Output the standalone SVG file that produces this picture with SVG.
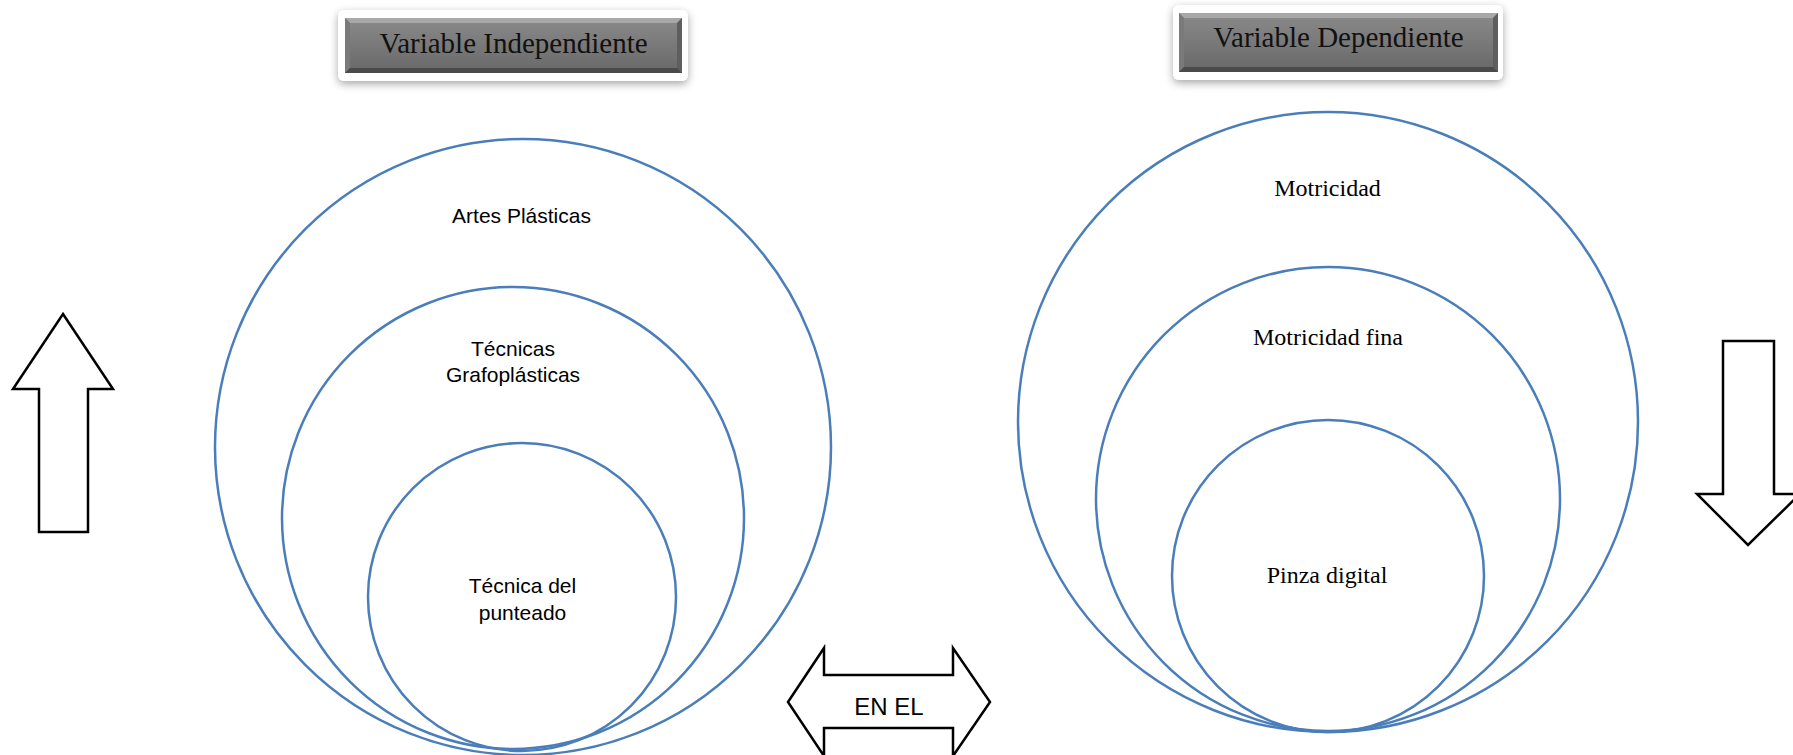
<svg xmlns="http://www.w3.org/2000/svg" width="1793" height="755" viewBox="0 0 1793 755">
<style>
.c{fill:none;stroke:#4a7ebb;stroke-width:2.5}
.ar{fill:#fff;stroke:#000;stroke-width:2.5;stroke-linejoin:miter}
.sans{font-family:"Liberation Sans",Arial,sans-serif;font-size:21px;fill:#000;text-anchor:middle}
.serif{font-family:"Liberation Serif","Times New Roman",serif;font-size:24px;fill:#000;text-anchor:middle}
.title{font-family:"Liberation Serif","Times New Roman",serif;font-size:29px;fill:#111;text-anchor:middle}
.frame{fill:#fff;filter:url(#sh)}
.box{fill:url(#g)}
.bl{fill:#a8a8a8}.bd{fill:#4a4a4a}.bs{fill:#7a7a7a}.bs2{fill:#5e5e5e}
</style>
<defs>
<filter id="sh" x="-10%" y="-30%" width="120%" height="170%">
<feDropShadow dx="0" dy="3" stdDeviation="4" flood-color="#000" flood-opacity="0.35"/>
</filter>
<linearGradient id="g" x1="0" y1="0" x2="0" y2="1">
<stop offset="0" stop-color="#8a8a8a"/>
<stop offset="1" stop-color="#686868"/>
</linearGradient>
</defs>

<g id="title-independiente">
<rect class="frame" x="338" y="10" width="350" height="71" rx="6"/>
<rect class="box" x="345" y="18" width="337" height="55"/>
<polygon class="bl" points="345,18 682,18 677,23 350,23"/>
<polygon class="bs" points="345,18 350,23 350,68 345,73"/>
<polygon class="bs2" points="682,18 682,73 677,68 677,23"/>
<polygon class="bd" points="345,73 350,68 677,68 682,73"/>
<text class="title" x="513.5" y="53">Variable Independiente</text>
</g>

<g id="title-dependiente">
<rect class="frame" x="1173" y="5" width="330" height="75" rx="6"/>
<rect class="box" x="1179" y="13" width="319" height="59"/>
<polygon class="bl" points="1179,13 1498,13 1493,18 1184,18"/>
<polygon class="bs" points="1179,13 1184,18 1184,67 1179,72"/>
<polygon class="bs2" points="1498,13 1498,72 1493,67 1493,18"/>
<polygon class="bd" points="1179,72 1184,67 1493,67 1498,72"/>
<text class="title" x="1338.5" y="47">Variable Dependiente</text>
</g>

<g id="artes-plasticas">
<circle class="c" cx="523" cy="447" r="308"/>
<text class="sans" x="521.5" y="223">Artes Plásticas</text>
</g>
<g id="tecnicas-grafoplasticas">
<circle class="c" cx="513" cy="518" r="231"/>
<text class="sans" x="513" y="356">Técnicas</text>
<text class="sans" x="513" y="382">Grafoplásticas</text>
</g>
<g id="tecnica-punteado">
<circle class="c" cx="522" cy="597" r="154"/>
<text class="sans" x="522.5" y="593">Técnica del</text>
<text class="sans" x="522.5" y="620">punteado</text>
</g>

<g id="motricidad">
<circle class="c" cx="1328" cy="422" r="310"/>
<text class="serif" x="1327.5" y="196">Motricidad</text>
</g>
<g id="motricidad-fina">
<circle class="c" cx="1328" cy="499" r="232"/>
<text class="serif" x="1328" y="345">Motricidad fina</text>
</g>
<g id="pinza-digital">
<circle class="c" cx="1328" cy="576" r="156"/>
<text class="serif" x="1327" y="583">Pinza digital</text>
</g>

<g id="connectors">
<g id="arrow-up">
<polygon class="ar" points="63,314 113,389 88,389 88,532 39,532 39,389 13,389"/>
</g>
<g id="arrow-down">
<polygon class="ar" points="1723,341 1774,341 1774,494 1800,494 1748,545 1697,494 1723,494"/>
</g>
<g id="arrow-en-el">
<polygon class="ar" points="788,702 824,648 824,675 953,675 953,648 990,702 953,756 953,728 824,728 824,756"/>
<text class="sans" x="889" y="715" style="font-size:24px">EN EL</text>
</g>
</g>
</svg>
